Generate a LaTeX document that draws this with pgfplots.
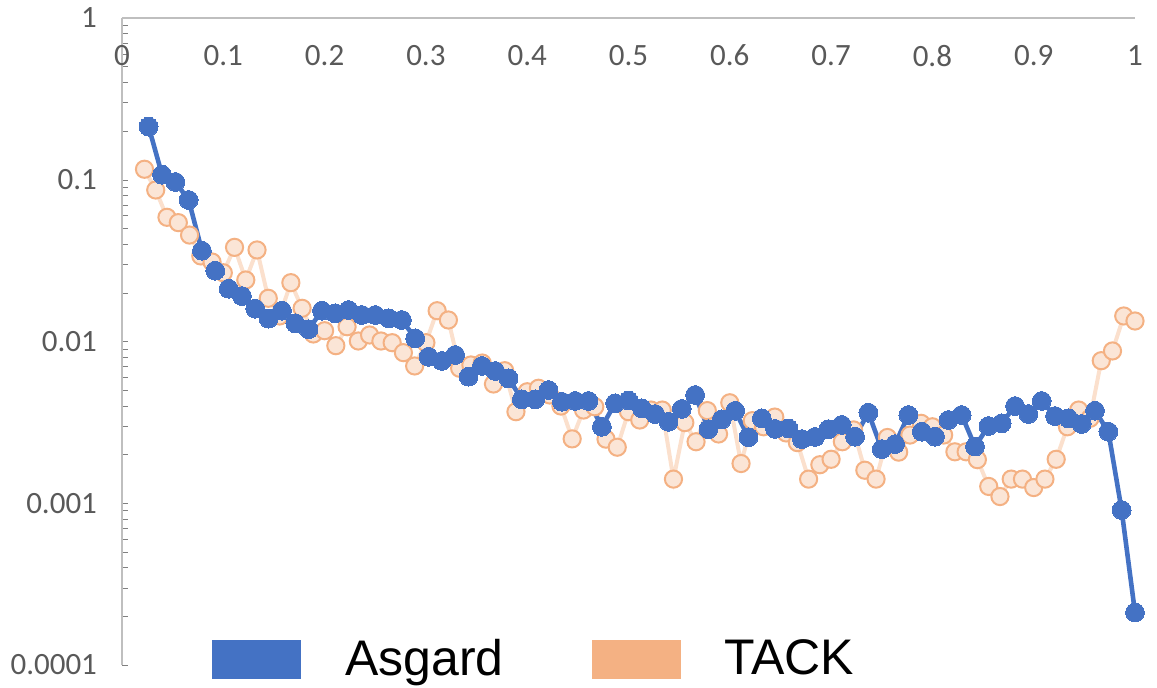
\documentclass[border=0pt]{standalone}
\usepackage{fontspec}
\usepackage{pgfplots}
\usepackage{pgfplotstable}
\pgfplotsset{compat=1.18}
\newfontfamily\tickfont{Carlito}
\newfontfamily\legfont{Liberation Sans}

\definecolor{asgard}{HTML}{4472C4}
\definecolor{tack}{HTML}{F4B183}
\definecolor{tackfill}{HTML}{FBE5D6}
\definecolor{tickgray}{HTML}{595959}
\definecolor{axisgray}{HTML}{BFBFBF}

% Asgard: relative position vs. frequency
\pgfplotstableread{
x y
0.0263 0.213
0.0395 0.1075
0.0526 0.0969
0.0658 0.0750
0.0789 0.0364
0.0921 0.0274
0.1053 0.0212
0.1184 0.0191
0.1316 0.01595
0.1447 0.01384
0.1579 0.0155
0.1711 0.01296
0.1842 0.0119
0.1974 0.0155
0.2105 0.01494
0.2237 0.01565
0.2368 0.01458
0.25 0.01458
0.2632 0.01391
0.2763 0.01358
0.2895 0.01046
0.3026 0.00805
0.3158 0.00758
0.3289 0.00825
0.3421 0.00606
0.3553 0.00706
0.3684 0.00657
0.3816 0.00592
0.3947 0.00439
0.4079 0.00439
0.4211 0.00501
0.4342 0.00424
0.4474 0.00429
0.4605 0.00429
0.4737 0.00297
0.4868 0.00415
0.5 0.00432
0.5132 0.00386
0.5263 0.00356
0.5395 0.00319
0.5526 0.00383
0.5658 0.00467
0.5789 0.00287
0.5921 0.0033
0.6053 0.00373
0.6184 0.00256
0.6316 0.00335
0.6447 0.00288
0.6579 0.0029
0.6711 0.00249
0.6842 0.00257
0.6974 0.00287
0.7105 0.00305
0.7237 0.00258
0.7368 0.00363
0.75 0.00216
0.7632 0.00232
0.7763 0.00351
0.7895 0.00277
0.8026 0.00258
0.8158 0.00327
0.8289 0.00351
0.8421 0.00224
0.8553 0.003
0.8684 0.00312
0.8816 0.00399
0.8947 0.00356
0.9079 0.00429
0.9211 0.00346
0.9342 0.00335
0.9474 0.00309
0.9605 0.00373
0.9737 0.00277
0.9868 0.000908
1 0.000211
}\asgarddata

% TACK: relative position vs. frequency
\pgfplotstableread{
x y
0.0222 0.1161
0.0333 0.0864
0.0444 0.0586
0.0556 0.0543
0.0667 0.0455
0.0778 0.0338
0.0889 0.0310
0.1 0.0266
0.1111 0.0382
0.1222 0.0240
0.1333 0.0368
0.1444 0.0185
0.1556 0.01438
0.1667 0.0231
0.1778 0.01604
0.1889 0.01113
0.2 0.01166
0.2111 0.00942
0.2222 0.01234
0.2333 0.01007
0.2444 0.01097
0.2556 0.01007
0.2667 0.00983
0.2778 0.00853
0.2889 0.00706
0.3 0.00983
0.3111 0.0155
0.3222 0.01358
0.3333 0.00683
0.3444 0.00716
0.3556 0.00736
0.3667 0.00546
0.3778 0.0066
0.3889 0.00368
0.4 0.00489
0.4111 0.00514
0.4222 0.00467
0.4333 0.00399
0.4444 0.0025
0.4556 0.00377
0.4667 0.00395
0.4778 0.00249
0.4889 0.00222
0.5 0.00368
0.5111 0.00327
0.5222 0.00377
0.5333 0.00377
0.5444 0.00141
0.5556 0.00315
0.5667 0.0024
0.5778 0.00374
0.5889 0.00268
0.6 0.00418
0.6111 0.00176
0.6222 0.00324
0.6333 0.00297
0.6444 0.00341
0.6556 0.00272
0.6667 0.00237
0.6778 0.00141
0.6889 0.00173
0.7 0.00187
0.7111 0.0024
0.7222 0.00284
0.7333 0.0016
0.7444 0.00141
0.7556 0.00255
0.7667 0.00207
0.7778 0.00264
0.7889 0.00312
0.8 0.00297
0.8111 0.00264
0.8222 0.00208
0.8333 0.00208
0.8444 0.00186
0.8556 0.00127
0.8667 0.0011
0.8778 0.00141
0.8889 0.00141
0.9 0.00125
0.9111 0.00141
0.9222 0.00187
0.9333 0.00297
0.9444 0.00377
0.9556 0.00335
0.9667 0.00761
0.9778 0.00874
0.9889 0.01438
1 0.01339
}\tackdata

\begin{document}
\begin{tikzpicture}
\begin{axis}[
  scale only axis,
  width=506.5pt, height=323.5pt,
  xmin=0, xmax=1,
  ymode=log, ymin=1e-4, ymax=1,
  clip=false,
  axis x line*=top,
  axis y line*=left,
  axis line style={draw=axisgray, line width=0.9pt},
  major tick length=0pt,
  xtick={0,0.1,0.2,0.3,0.4,0.5,0.6,0.7,0.8,0.9,1},
  xticklabels={0,0.1,0.2,0.3,0.4,0.5,0.6,0.7,0.8,0.9,1},
  ytick={1e-4,1e-3,1e-2,1e-1,1},
  yticklabels={0.0001,0.001,0.01,0.1,1},
  /pgf/number format/assume math mode=true,
  tick label style={font=\tickfont\fontsize{15.5}{18}\selectfont, text=tickgray},
  x tick label style={anchor=north, yshift=-10pt},
  y tick label style={anchor=east, xshift=-9pt},
  legend columns=2,
  legend style={
    at={(0.408,0.0093)}, anchor=center,
    draw=none, fill=none,
    font=\legfont\fontsize{25}{30}\selectfont,
    /tikz/every odd column/.append style={column sep=20pt},
    /tikz/every even column/.append style={column sep=42pt},
  },
]
\addplot[forget plot, color=tack, draw opacity=0.4, line width=2pt,
  mark=*, mark size=4.3pt,
  mark options={draw=tack, fill=tackfill, draw opacity=1, line width=1pt}]
  table[x=x, y=y] {\tackdata};
\addplot[forget plot, color=asgard, line width=2.3pt,
  mark=*, mark size=4.7pt,
  mark options={draw=asgard, fill=asgard, line width=0pt}]
  table[x=x, y=y] {\asgarddata};

\addlegendimage{legend image code/.code={\fill[asgard] (0pt,-9.5pt) rectangle (44pt,9.5pt);}}
\addlegendentry{Asgard}
\addlegendimage{legend image code/.code={\fill[tack] (0pt,-9.5pt) rectangle (44pt,9.5pt);}}
\addlegendentry{TACK}
\end{axis}
\pgfresetboundingbox
\path[use as bounding box] (-61pt,-11.5pt) rectangle (517.5pt,332.5pt);
\end{tikzpicture}
\end{document}
